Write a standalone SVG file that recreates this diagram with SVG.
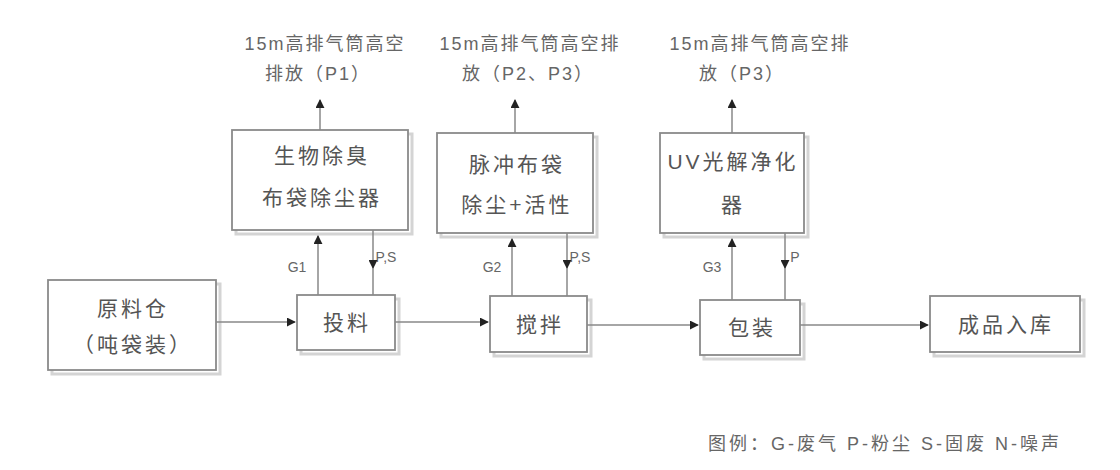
<svg xmlns="http://www.w3.org/2000/svg" width="1120" height="470" viewBox="0 0 1120 470">
<style>
.box{fill:#fff;stroke:#8a8a8a;stroke-width:1.8}
.sh{fill:none;stroke:#d4d4d4;stroke-width:3}
.t{font-family:"Liberation Sans","Noto Sans CJK SC",sans-serif;font-size:21px;letter-spacing:3px;fill:#555;text-anchor:middle}
.lb{font-family:"Liberation Sans","Noto Sans CJK SC",sans-serif;font-size:18px;letter-spacing:2px;fill:#666;text-anchor:middle}
.sm{font-family:"Liberation Sans","Noto Sans CJK SC",sans-serif;font-size:14px;fill:#666;text-anchor:middle}
.ln{stroke:#888;stroke-width:1.5;fill:none}
</style>
<defs>
<marker id="ah" viewBox="0 0 10 10" refX="9" refY="5" markerWidth="6" markerHeight="6" orient="auto"><path d="M0,0 L10,5 L0,10 z" fill="#222"/></marker>
</defs>
<rect width="1120" height="470" fill="#fff"/>
<g id="labels">
<text class="lb" x="325" y="50">15m高排气筒高空</text><text class="lb" x="318" y="80">排放（P1）</text>
<text class="lb" x="530" y="50">15m高排气筒高空排</text><text class="lb" x="528" y="80">放（P2、P3）</text>
<text class="lb" x="760" y="50">15m高排气筒高空排</text><text class="lb" x="742" y="80">放（P3）</text>
<text class="sm" x="297" y="272">G1</text><text class="sm" x="386" y="262">P,S</text>
<text class="sm" x="492" y="272">G2</text><text class="sm" x="580" y="262">P,S</text>
<text class="sm" x="712" y="272">G3</text><text class="sm" x="795" y="262">P</text>
<text class="lb" x="885" y="450" style="letter-spacing:3px">图例：G-废气 P-粉尘 S-固废 N-噪声</text>
</g>
<g id="n-yuanliao"><rect class="sh" x="52" y="284" width="168" height="90"/><rect class="box" x="48" y="280" width="168" height="90"/><text class="t" x="133" y="316">原料仓</text><text class="t" x="133" y="352">（吨袋装）</text></g>
<g id="n-chuli1"><rect class="sh" x="236" y="134" width="176" height="100"/><rect class="box" x="232" y="130" width="176" height="100"/><text class="t" x="322" y="163">生物除臭</text><text class="t" x="322" y="205">布袋除尘器</text></g>
<g id="n-chuli2"><rect class="sh" x="441" y="137" width="156" height="100"/><rect class="box" x="437" y="133" width="156" height="100"/><text class="t" x="517" y="172">脉冲布袋</text><text class="t" x="517" y="212">除尘+活性</text></g>
<g id="n-chuli3"><rect class="sh" x="664" y="137" width="144" height="100"/><rect class="box" x="660" y="133" width="144" height="100"/><text class="t" x="733" y="169">UV光解净化</text><text class="t" x="733" y="212">器</text></g>
<g id="n-touliao"><rect class="sh" x="301" y="299" width="98" height="55"/><rect class="box" x="297" y="295" width="98" height="55"/><text class="t" x="347" y="330">投料</text></g>
<g id="n-jiaoban"><rect class="sh" x="494" y="300" width="97" height="56"/><rect class="box" x="490" y="296" width="97" height="56"/><text class="t" x="540" y="332">搅拌</text></g>
<g id="n-baozhuang"><rect class="sh" x="704" y="304" width="100" height="55"/><rect class="box" x="700" y="300" width="100" height="55"/><text class="t" x="752" y="335">包装</text></g>
<g id="n-chengpin"><rect class="sh" x="934" y="300" width="150" height="56"/><rect class="box" x="930" y="296" width="150" height="56"/><text class="t" x="1006" y="332">成品入库</text></g>
<g id="connectors">
<line class="ln" x1="216" y1="322" x2="295" y2="322" marker-end="url(#ah)"/>
<line class="ln" x1="395" y1="322" x2="488" y2="322" marker-end="url(#ah)"/>
<line class="ln" x1="587" y1="325" x2="698" y2="325" marker-end="url(#ah)"/>
<line class="ln" x1="800" y1="325" x2="928" y2="325" marker-end="url(#ah)"/>
<line class="ln" x1="320" y1="130" x2="320" y2="100" marker-end="url(#ah)"/>
<line class="ln" x1="515" y1="133" x2="515" y2="100" marker-end="url(#ah)"/>
<line class="ln" x1="732" y1="133" x2="732" y2="100" marker-end="url(#ah)"/>
<line class="ln" x1="318" y1="295" x2="318" y2="236" marker-end="url(#ah)"/>
<line class="ln" x1="373" y1="230" x2="373" y2="268" marker-end="url(#ah)"/><line class="ln" x1="373" y1="268" x2="373" y2="295"/>
<line class="ln" x1="512" y1="296" x2="512" y2="239" marker-end="url(#ah)"/>
<line class="ln" x1="567" y1="233" x2="567" y2="268" marker-end="url(#ah)"/><line class="ln" x1="567" y1="268" x2="567" y2="296"/>
<line class="ln" x1="732" y1="300" x2="732" y2="239" marker-end="url(#ah)"/>
<line class="ln" x1="785" y1="233" x2="785" y2="268" marker-end="url(#ah)"/><line class="ln" x1="785" y1="268" x2="785" y2="300"/>
</g>
</svg>
